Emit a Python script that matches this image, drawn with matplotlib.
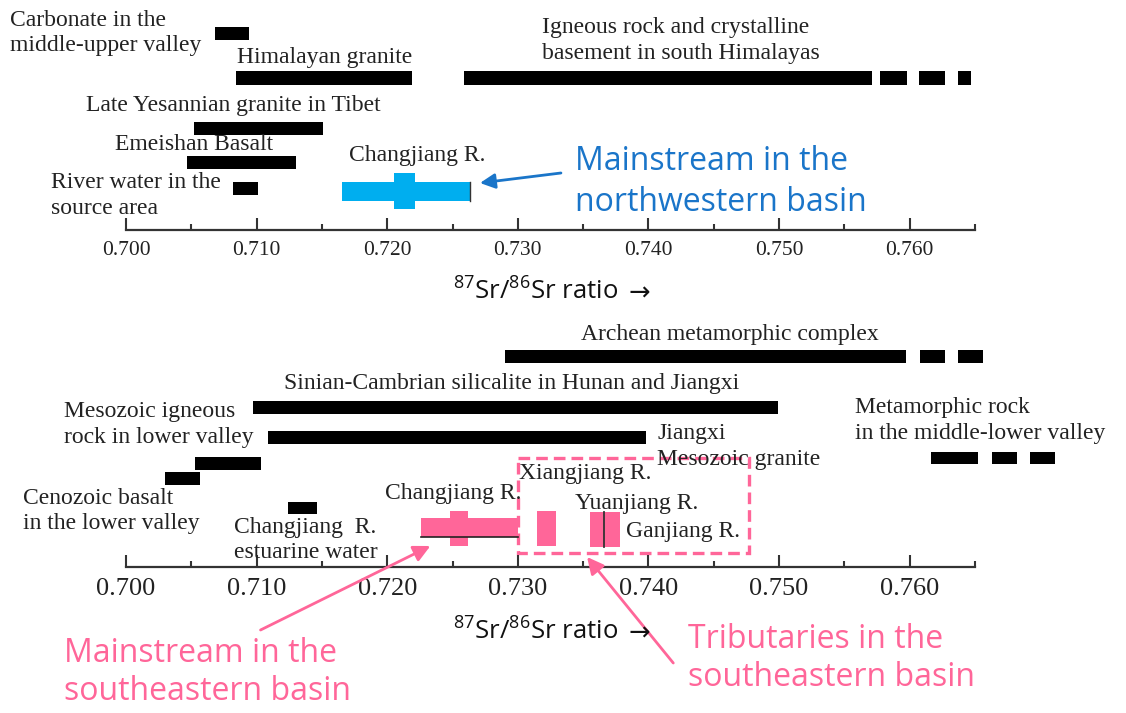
import matplotlib
matplotlib.use("Agg")
import matplotlib.pyplot as plt
from matplotlib.patches import Rectangle

W, H = 1126, 713
SERIF = "Liberation Serif"
SANS = ["Open Sans", "DejaVu Sans"]
BLACK = "black"
CYAN = "#00AEEF"
PINK = "#FF6699"
BLUE = "#1A75C9"

plt.rcParams["mathtext.fontset"] = "custom"
plt.rcParams["mathtext.rm"] = "Open Sans"
plt.rcParams["mathtext.it"] = "Open Sans"

# ---------------- data (87Sr/86Sr ranges) ----------------
# top panel: source rocks of the northwestern basin
top_carbonate = [(0.7068, 0.7094)]
top_himalayan_granite = [(0.7084, 0.7219)]
top_igneous_basement = [(0.7259, 0.7571), (0.7577, 0.7598), (0.7607, 0.7627), (0.7637, 0.7647)]
top_yesannian = [(0.7052, 0.7151)]
top_emeishan = [(0.7047, 0.7130)]
top_river_source = [(0.7082, 0.7101)]
top_changjiang_range = (0.7165, 0.7263)
top_changjiang_core = (0.7205, 0.7221)

# bottom panel: source rocks of the southeastern basin
bot_archean = [(0.7290, 0.7597), (0.7608, 0.7627), (0.7637, 0.7656)]
bot_sinian = [(0.7097, 0.7499)]
bot_jiangxi_granite = [(0.7109, 0.7398)]
bot_mesozoic_igneous = [(0.7053, 0.7103)]
bot_cenozoic_basalt = [(0.7030, 0.7057)]
bot_estuarine = [(0.7124, 0.7146)]
bot_metamorphic = [(0.7616, 0.7652), (0.7663, 0.7682), (0.7692, 0.7711)]
bot_changjiang_range = (0.7226, 0.7300)
bot_changjiang_core = (0.7248, 0.7262)
bot_xiangjiang = (0.7315, 0.7329)
bot_yuanjiang = (0.7355, 0.7366)
bot_ganjiang = (0.7366, 0.7378)
tributary_box = (0.7300, 0.7477)

tick_values = [0.700, 0.710, 0.720, 0.730, 0.740, 0.750, 0.760]
tick_labels = ["0.700", "0.710", "0.720", "0.730", "0.740", "0.750", "0.760"]
minor_values = [0.705, 0.715, 0.725, 0.735, 0.745, 0.755, 0.765]
XMIN, XMAX = 0.700, 0.765

XLABEL = "$^{87}$Sr/$^{86}$Sr ratio"
ARROW = "\u2192"

# ---------------- layout helpers ----------------
fig = plt.figure(figsize=(W / 100, H / 100), dpi=100)
X0, X1 = 126, 975  # pixel span of axis


def make_axes(y_top, y_axis, label_size, pad):
    ax = fig.add_axes([X0 / W, 1 - y_axis / H, (X1 - X0) / W, (y_axis - y_top) / H])
    ax.set_xlim(XMIN, XMAX)
    ax.set_ylim(y_axis, y_top)  # y in pixel-like units, downward
    for s in ("top", "left", "right"):
        ax.spines[s].set_visible(False)
    ax.spines["bottom"].set_linewidth(1.6)
    ax.spines["bottom"].set_color("#333333")
    ax.set_yticks([])
    ax.set_xticks(tick_values)
    ax.set_xticklabels(tick_labels, family=SERIF, fontsize=label_size, color="#222222")
    ax.set_xticks(minor_values, minor=True)
    ax.tick_params(axis="x", which="major", direction="in", length=8.5, width=1.5,
                   pad=pad, color="#333333")
    ax.tick_params(axis="x", which="minor", direction="in", length=4.5, width=1.5,
                   color="#333333")
    ax.patch.set_alpha(0)
    return ax


def bars(ax, segs, yc, h, color=BLACK):
    starts = [s for s, e in segs]
    widths = [e - s for s, e in segs]
    ax.barh([yc] * len(segs), widths, left=starts, height=h, color=color,
            linewidth=0, clip_on=False)


def ftext(x, y, s, size, family=SERIF, color="#222222", **kw):
    fig.text(x / W, 1 - y / H, s, fontsize=size, family=family, color=color,
             va="center", ha=kw.pop("ha", "left"), **kw)


# ---------------- top panel ----------------
axt = make_axes(0, 230, 15.5, 8)
bars(axt, top_carbonate, 33.5, 13)
bars(axt, top_himalayan_granite, 77.5, 14)
bars(axt, top_igneous_basement, 78, 14)
bars(axt, top_yesannian, 128.5, 13)
bars(axt, top_emeishan, 162.5, 13)
bars(axt, top_river_source, 188.5, 13)
bars(axt, [top_changjiang_range], 191.5, 19, CYAN)
bars(axt, [top_changjiang_core], 191, 36, CYAN)
axt.plot([top_changjiang_range[1]] * 2, [182, 201], color="#333333", lw=1)

ts = 17
ftext(10, 20, "Carbonate in the", ts)
ftext(10, 45, "middle-upper valley", ts)
ftext(237, 58, "Himalayan granite", ts)
ftext(542, 28, "Igneous rock and crystalline", ts)
ftext(542, 53, "basement in south Himalayas", ts)
ftext(86, 105, "Late Yesannian granite in Tibet", ts)
ftext(115, 145, "Emeishan Basalt", ts)
ftext(349, 155, "Changjiang R.", ts)
ftext(51, 183, "River water in the", ts)
ftext(51, 208, "source area", ts)
ftext(575, 162, "Mainstream in the", 23, family=SANS, color=BLUE)
ftext(575, 202, "northwestern basin", 23, family=SANS, color=BLUE)
ftext(453, 292, XLABEL, 18.5, family=SANS, color="#111111")
ftext(629, 294, ARROW, 18.5, family="DejaVu Sans", color="#111111")

axt.annotate("", xy=(0.7271, 183), xytext=(0.7333, 173), annotation_clip=False,
             arrowprops=dict(arrowstyle="-|>,head_length=0.9,head_width=0.45",
                             color=BLUE, lw=2, shrinkA=0, shrinkB=0))

# ---------------- bottom panel ----------------
axb = make_axes(300, 567, 19, 8)
bars(axb, bot_archean, 356.5, 13)
bars(axb, bot_sinian, 408, 13)
bars(axb, bot_jiangxi_granite, 437.5, 13)
bars(axb, bot_mesozoic_igneous, 463, 13)
bars(axb, bot_cenozoic_basalt, 478.5, 13)
bars(axb, bot_estuarine, 508, 12)
bars(axb, bot_metamorphic, 458, 12)
bars(axb, [bot_changjiang_range], 527.5, 19, PINK)
bars(axb, [bot_changjiang_core], 528.5, 35, PINK)
axb.plot(list(bot_changjiang_range), [537, 537], color="#222222", lw=1.2)
bars(axb, [bot_xiangjiang], 528.5, 35, PINK)
bars(axb, [bot_yuanjiang, bot_ganjiang], 529.5, 35, PINK)
axb.plot([bot_ganjiang[0]] * 2, [512, 547], color="#333333", lw=1.3)
axb.add_patch(Rectangle((tributary_box[0], 457.5), tributary_box[1] - tributary_box[0], 95,
                        fill=False, edgecolor=PINK, lw=2.4, ls=(0, (3.5, 1.8)), clip_on=False))

bs = 17
ftext(581, 335, "Archean metamorphic complex", bs)
ftext(284, 384, "Sinian-Cambrian silicalite in Hunan and Jiangxi", bs)
ftext(64, 412, "Mesozoic igneous", bs)
ftext(64, 437, "rock in lower valley", bs)
ftext(657, 433, "Jiangxi", bs)
ftext(657, 459, "Mesozoic granite", bs)
ftext(855, 408, "Metamorphic rock", bs)
ftext(855, 434, "in the middle-lower valley", bs)
ftext(23, 498, "Cenozoic basalt", bs)
ftext(23, 523, "in the lower valley", bs)
ftext(234, 527, "Changjiang  R.", bs)
ftext(234, 552, "estuarine water", bs)
ftext(385, 493, "Changjiang R.", bs)
ftext(519, 473, "Xiangjiang R.", bs)
ftext(575, 503, "Yuanjiang R.", bs)
ftext(626, 531, "Ganjiang R.", bs)
ftext(453, 632, XLABEL, 18.5, family=SANS, color="#111111")
ftext(629, 634, ARROW, 18.5, family="DejaVu Sans", color="#111111")
ftext(64, 653, "Mainstream in the", 23, family=SANS, color=PINK)
ftext(64, 692, "southeastern basin", 23, family=SANS, color=PINK)
ftext(688, 639, "Tributaries in the", 23, family=SANS, color=PINK)
ftext(688, 678, "southeastern basin", 23, family=SANS, color=PINK)

axb.annotate("", xy=(0.7233, 546), xytext=(0.7103, 630), annotation_clip=False,
             arrowprops=dict(arrowstyle="-|>,head_length=1.0,head_width=0.5",
                             color=PINK, lw=2, shrinkA=0, shrinkB=0))
axb.annotate("", xy=(0.7353, 557), xytext=(0.7419, 663), annotation_clip=False,
             arrowprops=dict(arrowstyle="-|>,head_length=1.0,head_width=0.5",
                             color=PINK, lw=2, shrinkA=0, shrinkB=0))

fig.savefig("out.png", dpi=100)
